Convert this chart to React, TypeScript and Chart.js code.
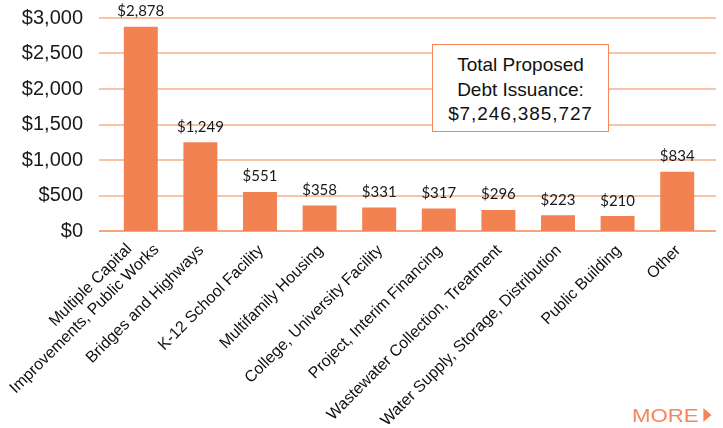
import React, { useEffect, useRef } from 'react';
import { Chart, registerables } from 'chart.js';

Chart.register(...registerables);

const categories: string[][] = [
  ['Multiple Capital', 'Improvements, Public Works'],
  ['Bridges and Highways'],
  ['K-12 School Facility'],
  ['Multifamily Housing'],
  ['College, University Facility'],
  ['Project, Interim Financing'],
  ['Wastewater Collection, Treatment'],
  ['Water Supply, Storage, Distribution'],
  ['Public Building'],
  ['Other'],
];
const values: number[] = [2878, 1249, 551, 358, 331, 317, 296, 223, 210, 834];
const yTickValues: number[] = [0, 500, 1000, 1500, 2000, 2500, 3000];
const annotationLines: string[] = ['Total Proposed', 'Debt Issuance:', '$7,246,385,727'];
const moreText = 'MORE';

const BAR = '#F28252';
const GRID = '#F9C4A6';
const BASE = '#F6A47E';
const FONT = '"Liberation Sans", Arial, Helvetica, sans-serif';

const fmt = (v: number) => '$' + v.toLocaleString('en-US');

const gridPlugin = {
  id: 'extGrid',
  beforeDatasetsDraw(chart: any) {
    const { ctx, chartArea, scales } = chart;
    const y = scales.y;
    ctx.save();
    ctx.lineWidth = 2;
    yTickValues.forEach((v) => {
      const py = Math.round(y.getPixelForValue(v));
      ctx.strokeStyle = v === 0 ? BASE : GRID;
      ctx.beginPath();
      ctx.moveTo(chartArea.left - 12, py);
      ctx.lineTo(chartArea.right + 9, py);
      ctx.stroke();
    });
    ctx.restore();
  },
};

const valueLabelPlugin = {
  id: 'valueLabels',
  afterDatasetsDraw(chart: any) {
    const { ctx } = chart;
    const meta = chart.getDatasetMeta(0);
    ctx.save();
    ctx.fillStyle = '#1a1a1a';
    ctx.font = '15px Lato, "Open Sans", sans-serif';
    ctx.textAlign = 'center';
    ctx.textBaseline = 'alphabetic';
    meta.data.forEach((bar: any, i: number) => {
      ctx.fillText(fmt(values[i]), bar.x, bar.y - 10.5);
    });
    ctx.restore();
  },
};

const xLabelPlugin = {
  id: 'xLabels',
  afterDraw(chart: any) {
    const { ctx, chartArea, scales } = chart;
    const x = scales.x;
    const lh = 19.5;
    ctx.save();
    ctx.fillStyle = '#111';
    ctx.font = `16px ${FONT}`;
    ctx.textAlign = 'right';
    ctx.textBaseline = 'middle';
    categories.forEach((lines, i) => {
      const px = x.getPixelForTick(i);
      ctx.save();
      ctx.translate(px + 1, chartArea.bottom + 17);
      ctx.rotate(-Math.PI / 4);
      const n = lines.length;
      const widths = lines.map((l) => ctx.measureText(l).width);
      const maxW = Math.max(...widths);
      lines.forEach((line, j) => {
        const shift = n > 1 ? 11 - (maxW - widths[j]) * 0.2 : 0;
        ctx.fillText(line, shift, (j - (n - 1) / 2) * lh);
      });
      ctx.restore();
    });
    ctx.restore();
  },
};

export default function App() {
  const ref = useRef<HTMLCanvasElement | null>(null);

  useEffect(() => {
    if (!ref.current) return;
    const chart = new Chart(ref.current, {
      type: 'bar',
      data: {
        labels: categories.map((c) => c.join(' ')),
        datasets: [
          {
            data: values,
            backgroundColor: BAR,
            borderWidth: 0,
            barPercentage: 0.57,
            categoryPercentage: 1,
          },
        ],
      },
      options: {
        responsive: false,
        animation: false,
        devicePixelRatio: 1,
        layout: { padding: { top: 18, right: 16, left: 0, bottom: 0 } },
        plugins: {
          legend: { display: false },
          tooltip: { enabled: false },
        },
        scales: {
          x: {
            grid: { display: false, drawTicks: false },
            border: { display: false },
            ticks: { display: false },
            afterFit(scale: any) {
              scale.height = 197;
              scale.paddingLeft = 0;
              scale.paddingRight = 0;
            },
          },
          y: {
            min: 0,
            max: 3000,
            grid: { display: false, drawTicks: false },
            border: { display: false },
            ticks: {
              stepSize: 500,
              autoSkip: false,
              padding: 28,
              color: '#1a1a1a',
              font: { family: FONT, size: 20 },
              callback: (v: any) => fmt(Number(v)),
            },
            afterFit(scale: any) {
              scale.width = 111;
              scale.paddingTop = 0;
              scale.paddingBottom = 0;
            },
          },
        },
      },
      plugins: [gridPlugin, valueLabelPlugin, xLabelPlugin],
    });
    return () => chart.destroy();
  }, []);

  return (
    <div style={{ position: 'absolute', left: 0, top: 0, width: 723, height: 428, background: '#fff', overflow: 'hidden' }}>
      <canvas ref={ref} width={723} height={428} style={{ position: 'absolute', left: 0, top: 0 }} />
      <div
        style={{
          position: 'absolute',
          left: 432,
          top: 44,
          width: 177,
          height: 88,
          boxSizing: 'border-box',
          border: '1.5px solid #F4875A',
          background: '#fff',
          textAlign: 'center',
          fontFamily: FONT,
          fontSize: 19,
          lineHeight: '24.5px',
          color: '#111',
          paddingTop: 8,
        }}
      >
        {annotationLines.map((l, i) => (
          <div key={i} style={{ letterSpacing: i === 2 ? '0.9px' : 'normal' }}>
            {l}
          </div>
        ))}
      </div>
      <div
        style={{
          position: 'absolute',
          left: 632,
          top: 406,
          fontFamily: FONT,
          fontSize: 19,
          lineHeight: '20px',
          color: '#F4875A',
          whiteSpace: 'nowrap',
          transform: 'scaleX(1.17)',
          transformOrigin: 'left top',
        }}
      >
        {moreText}
        <span
          style={{
            display: 'inline-block',
            width: 0,
            height: 0,
            marginLeft: 4,
            borderTop: '7px solid transparent',
            borderBottom: '7px solid transparent',
            borderLeft: '7px solid #F4875A',
            verticalAlign: '0px',
          }}
        />
      </div>
    </div>
  );
}
